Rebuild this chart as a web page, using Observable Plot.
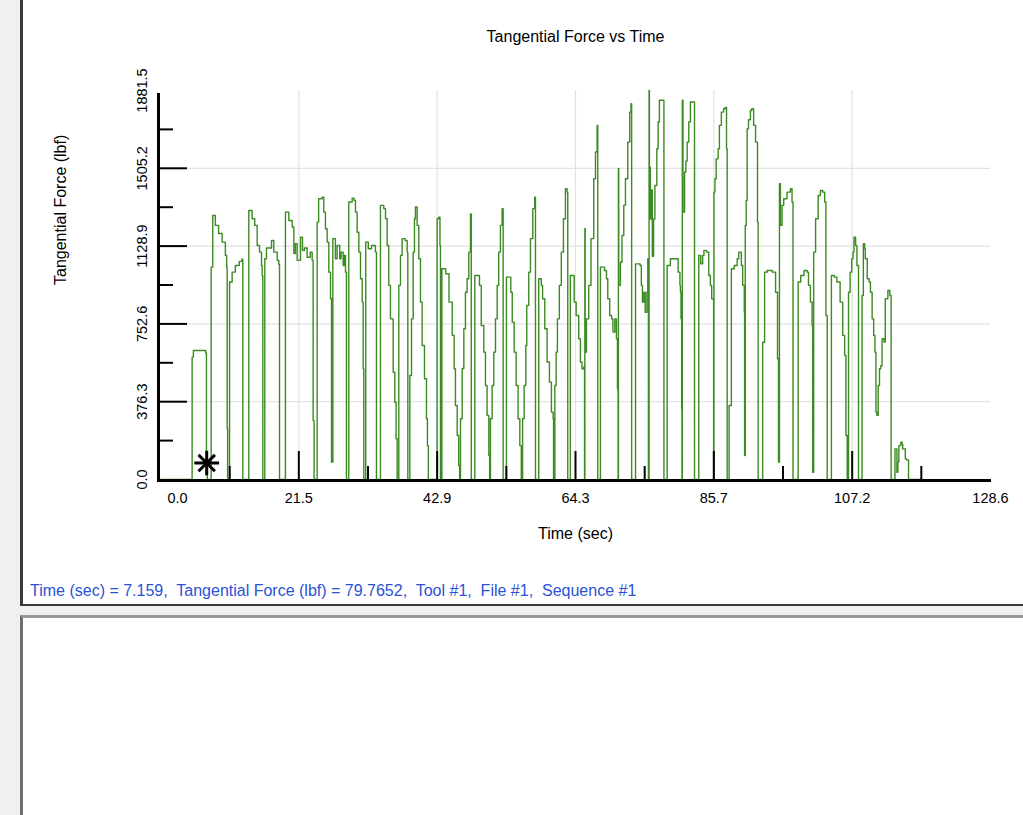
<!DOCTYPE html>
<html><head><meta charset="utf-8">
<script src="https://cdn.jsdelivr.net/npm/d3@7"></script>
<script src="https://cdn.jsdelivr.net/npm/@observablehq/plot@0.6"></script>
<style>
html,body{margin:0;padding:0;background:#f0f0f0;overflow:hidden;width:1023px;height:815px;font-family:"Liberation Sans",Arial,sans-serif;}
#top{position:absolute;left:20px;top:-4px;width:1100px;height:608px;background:#fff;border-left:3px solid #3a3a3a;border-bottom:2px solid #3a3a3a;}
#bottom{position:absolute;left:20px;top:615px;width:1100px;height:300px;background:#fff;border-left:3px solid #6e6e6e;border-top:3px solid #9a9a9a;}
#chart{position:absolute;left:0;top:0;}
#status{position:absolute;left:30px;top:582px;font-size:16px;color:#2a52d6;white-space:pre;font-family:"Liberation Sans",Arial,sans-serif;}
</style></head><body>
<div id="top"></div><div id="bottom"></div>
<div id="chart"></div>
<div id="status"></div>
<script>
// Time (sec) of each sample (value holds until the next sample)
const time = [
  0, 4.9, 5.1, 7.0, 7.12, 7.25,
  7.85, 8.1, 8.5, 9.0, 9.55, 10.05, 10.25, 10.33, 10.4, 10.7, 11.1, 11.6, 12.2, 12.6, 12.75,
  13.68, 14.2, 14.6, 14.98, 15.34, 15.65, 15.75, 15.85, 16.16, 16.42, 17.2, 17.55, 18.08, 18.33, 18.44,
  19.36, 19.88, 20.4, 20.66, 20.9, 21.17, 21.69, 22.0, 22.3, 22.72, 23.2, 23.5, 23.65, 23.8,
  24.27, 24.5, 25.05, 25.3, 25.56, 25.82, 26.08, 26.34, 26.5, 26.7, 27.1, 27.36, 27.77, 27.98, 28.3, 28.45, 28.66, 28.81,
  29.17, 29.7, 30.0, 30.21, 30.47, 30.73, 30.99, 31.25, 31.4, 31.5, 31.8, 32.2, 32.7, 33.3, 33.46,
  34.08, 34.6, 34.86, 35.12, 35.37, 35.63, 36.05, 36.3, 36.5, 36.67, 36.92, 37.18, 37.44, 37.9, 38.22, 38.32,
  38.63, 38.89, 39.15, 39.35, 39.5, 39.76, 40.02, 40.28, 40.54, 40.9, 41.21, 41.36, 41.5,
  42.86, 43.1, 43.3, 43.38, 43.6, 44.2, 44.7, 45.2, 45.5, 45.7, 45.97, 46.2, 46.35,
  46.48, 46.74, 47.0, 47.25, 47.5, 47.77, 48.03, 48.15,
  48.7, 49.42, 49.7, 50.09, 50.35, 50.6, 50.87, 51.0, 51.12, 51.38, 51.64, 51.9, 52.16, 52.4, 52.67, 52.93, 53.09,
  53.6, 54.27, 54.5, 54.8, 55.1, 55.4, 55.67, 55.9, 56.1, 56.34, 56.6, 56.75, 57.06, 57.32, 57.68, 57.98, 58.1,
  58.6, 59.0, 59.2, 59.54, 59.9, 60.26, 60.57, 60.83, 60.9, 61.1, 61.3, 61.5, 61.8, 62.1, 62.43, 62.74, 63.0, 63.1,
  63.5, 64.1, 64.4, 64.8, 65.06, 65.3, 65.6, 65.7, 65.75, 65.8, 66.0, 66.35, 66.7, 67.13, 67.4, 67.65, 67.75,
  68.16, 68.8, 69.1, 69.3, 69.6, 69.9, 70.1, 70.4, 70.64, 70.8, 70.9, 70.95, 71.0, 71.26, 71.5, 71.78, 72.04, 72.4, 72.7, 72.9, 73.0,
  73.6, 74.3, 74.5, 74.67, 74.9, 75.1, 75.37, 75.5, 75.6, 75.7, 75.75, 75.9, 76.05, 76.2, 76.4, 76.6, 76.9, 77.1, 77.3, 77.9, 78.0,
  78.5, 79.0, 79.8, 80.2, 80.48, 80.56, 80.65, 80.75, 80.8, 80.85, 80.95, 81.2, 81.4, 81.6, 81.85, 82.1, 82.6, 82.74,
  83.4, 83.7, 84.0, 84.2, 84.6, 84.95, 85.2, 85.4, 85.7,
  85.75, 85.9, 86.1, 86.4, 86.6, 86.9, 87.25, 87.5, 87.7, 87.8,
  88.1, 88.45, 88.9, 89.35, 89.6, 90.0, 90.2, 90.45, 90.5, 90.6, 90.75, 90.9, 91.1, 91.4, 91.6, 91.9, 92.2, 92.5, 92.6,
  93.3, 93.6, 94.0, 94.8, 95.3, 95.6, 95.75, 95.9, 96.05, 96.3, 96.56, 97.07, 97.6, 97.85, 98.0,
  98.8, 99.2, 99.7, 100.2, 100.4, 100.7, 100.96, 101.05, 101.2, 101.5, 101.9, 102.25, 102.6, 102.9, 103.1, 103.3,
  103.95, 104.4, 104.8, 105.3, 105.7, 106.0, 106.2, 106.4, 106.6, 106.85, 107.1, 107.3, 107.45, 107.7, 107.9, 108.15,
  108.7, 108.9, 109.1, 109.2, 109.5, 109.8, 110.0, 110.26, 110.5, 110.7, 110.85, 111.0, 111.2, 111.4, 111.6, 111.8, 112.1, 112.3, 112.7, 113.0, 113.2,
  113.8, 114.1, 114.25, 114.4, 114.7, 114.9, 115.0, 115.4, 115.6, 115.9, 118
];
// Tangential force (lbf) of each sample
const force = [
  0, 592, 624, 612, 80, 0,
  1027, 1277, 1229, 1190, 1148, 1084, 1027, 247, 0, 955, 1003, 1035, 1055, 1065, 0,
  1301, 1261, 1229, 1132, 1100, 1035, 987, 0, 1068, 1120, 1156, 1100, 1060, 1040, 0,
  1293, 1253, 1221, 1093, 1140, 1060, 1172, 1108, 1120, 1075, 1100, 1060, 285, 0,
  1245, 1358, 1366, 1293, 1213, 1148, 1003, 874, 84, 1165, 1068, 1132, 1068, 1100, 1035, 1084, 1003, 0,
  1342, 1361, 1350, 1293, 1196, 1100, 971, 858, 536, 0, 1148, 1116, 1132, 1100, 0,
  1326, 1310, 1261, 1132, 939, 777, 519, 374, 197, 0, 939, 1084, 1165, 1156, 1100, 0,
  503, 777, 1100, 1261, 1318, 1229, 1068, 858, 648, 487, 294, 164, 0,
  1261, 1269, 1132, 0, 1019, 995, 858, 697, 536, 358, 213, 68, 0,
  294, 537, 729, 906, 971, 1100, 1285, 0,
  987, 939, 745, 616, 455, 310, 116, 0, 294, 455, 616, 777, 939, 1100, 1229, 1310, 0,
  979, 906, 761, 616, 455, 294, 164, 0, 294, 455, 648, 842, 1003, 1165, 1310, 1366, 0,
  971, 939, 874, 729, 568, 471, 326, 294, 0, 455, 616, 777, 939, 1100, 1261, 1406, 1390, 0,
  987, 858, 793, 681, 568, 536, 545, 0, 1214, 616, 777, 939, 1165, 1455, 1584, 1713, 0,
  1027, 1011, 971, 874, 793, 777, 713, 777, 681, 439, 0, 1505, 939, 1051, 1180, 1326, 1455, 1632, 1777, 1818, 0,
  1043, 1035, 939, 858, 906, 809, 906, 1068, 0, 1881.5, 1510, 1260, 1400, 1080, 1260, 1422, 1600, 1729, 1834, 1834, 0,
  1035, 1068, 1068, 1003, 939, 906, 777, 342, 0, 1834, 1293, 1487, 1540, 1632, 1729, 1826, 1826, 0,
  1084, 1043, 1084, 1108, 1100, 987, 939, 874, 0,
  1390, 1455, 1551, 1600, 1713, 1777, 1793, 1800, 1600, 0,
  358, 1019, 1035, 1068, 1100, 1035, 939, 809, 116, 1229, 1350, 1697, 1740, 1785, 1793, 1713, 1632, 1245, 0,
  664, 1003, 1011, 1003, 906, 584, 84, 1431, 1229, 1326, 1358, 1390, 1406, 1342, 0,
  955, 987, 1011, 1003, 939, 858, 745, 35, 1100, 1261, 1374, 1398, 1390, 1342, 793, 0,
  987, 979, 955, 858, 697, 600, 213, 0, 906, 1003, 1068, 1100, 1172, 1132, 1035, 0,
  890, 1140, 1116, 1068, 971, 955, 906, 777, 697, 616, 326, 310, 455, 536, 550, 681, 665, 874, 914, 890, 0,
  148, 35, 84, 164, 180, 170, 148, 100, 95, 0, 0
];

const xTickValues = [0, 21.43, 42.87, 64.3, 85.73, 107.17, 128.6];
const xTickLabels = ["0.0", "21.5", "42.9", "64.3", "85.7", "107.2", "128.6"];
const xMinorTicks = [10.72, 32.15, 53.58, 75.02, 96.45, 117.88];
const yTickValues = [0, 376.3, 752.6, 1128.9, 1505.2, 1881.5];
const yTickLabels = ["0.0", "376.3", "752.6", "1128.9", "1505.2", "1881.5"];
const yMinorTicks = [188.15, 564.45, 940.75, 1317.05, 1693.35];

const cursorTime = [7.159];
const cursorForce = [79.7652];
const statusParts = ["Tool #1", "File #1", "Sequence #1"];

const titleText = "Tangential Force vs Time";
const xLabel = "Time (sec)";
const yLabel = "Tangential Force (lbf)";

const data = time.map((t, i) => ({t, f: force[i]}));
const xTicks = xTickValues.map((v, i) => ({v, label: xTickLabels[i]}));
const yTicks = yTickValues.map((v, i) => ({v, label: yTickLabels[i]}));
const cursor = cursorTime.map((t, i) => ({t, f: cursorForce[i]}));

const FONT = "Liberation Sans, Arial, sans-serif";

const chart = Plot.plot({
  width: 1023,
  height: 560,
  marginLeft: 160,
  marginRight: 33,
  marginTop: 90,
  marginBottom: 81,
  style: {background: "transparent", fontFamily: FONT, color: "black"},
  x: {domain: [0, 128.6], axis: null},
  y: {domain: [0, 1881.5], axis: null},
  marks: [
    Plot.ruleX(xTickValues.slice(1, -1), {stroke: "#e2e2e2", strokeWidth: 1.2}),
    Plot.ruleY(yTickValues.slice(1, -1), {stroke: "#e2e2e2", strokeWidth: 1.2}),
    Plot.line(data, {x: "t", y: "f", curve: "step-after", stroke: "#3c8a22", strokeWidth: 1.4}),
    Plot.ruleX(xTickValues.slice(1, -1), {y1: 0, y2: 0, insetTop: -28, stroke: "black", strokeWidth: 2}),
    Plot.ruleX(xMinorTicks, {y1: 0, y2: 0, insetTop: -13, stroke: "black", strokeWidth: 2}),
    Plot.ruleY(yTickValues.slice(1, -1), {x1: 0, x2: 0, insetLeft: -2, insetRight: -27, stroke: "black", strokeWidth: 2}),
    Plot.ruleY(yMinorTicks, {x1: 0, x2: 0, insetLeft: -2, insetRight: -13, stroke: "black", strokeWidth: 2}),
    Plot.ruleY([0], {x1: 0, x2: 128.6, insetLeft: -3, insetRight: -1, dy: 1, stroke: "black", strokeWidth: 3}),
    Plot.ruleX([0], {y1: 0, y2: 1881.5, insetBottom: -3, dx: -2, stroke: "black", strokeWidth: 3}),
    Plot.text(xTicks.slice(1), {x: "v", text: "label", frameAnchor: "bottom", dy: 23, fontSize: 14.5, fontFamily: FONT}),
    Plot.text(xTicks.slice(0, 1), {x: "v", text: "label", frameAnchor: "bottom", dy: 23, dx: 7, textAnchor: "start", fontSize: 14.5, fontFamily: FONT}),
    Plot.text(yTicks, {y: "v", text: "label", frameAnchor: "left", dx: -18, rotate: -90, textAnchor: "middle", lineAnchor: "middle", fontSize: 14.5, fontFamily: FONT}),
    Plot.text([xLabel], {text: d => d, frameAnchor: "bottom", dy: 59, fontSize: 16, fontFamily: FONT}),
    Plot.text([yLabel], {text: d => d, frameAnchor: "left", dx: -100, rotate: -90, fontSize: 16, fontFamily: FONT}),
    Plot.text([titleText], {text: d => d, frameAnchor: "top", dy: -60, fontSize: 16, fontFamily: FONT}),
    Plot.dot(cursor, {x: "t", y: "f", symbol: "plus", r: 8, stroke: "black", strokeWidth: 3, fill: "none"}),
    Plot.dot(cursor, {x: "t", y: "f", symbol: "times", r: 7.5, stroke: "black", strokeWidth: 3, fill: "none"})
  ]
});
document.getElementById("chart").appendChild(chart);

document.getElementById("status").textContent =
  `${xLabel} = ${cursorTime[0].toFixed(3)},  ${yLabel} = ${cursorForce[0].toFixed(4)},  ` + statusParts.join(",  ");
</script>
</body></html>
